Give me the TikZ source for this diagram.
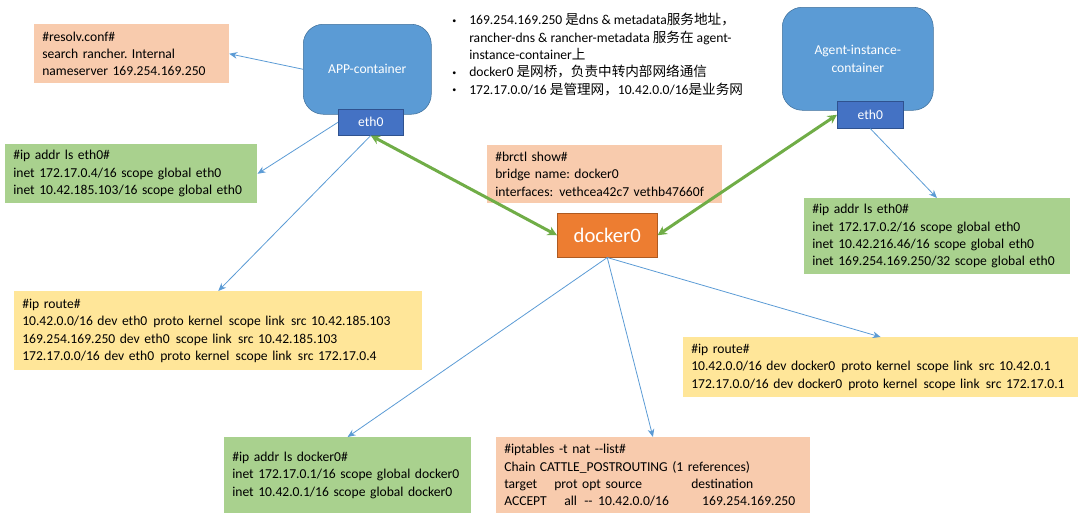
\documentclass[tikz,border=0pt]{standalone}
\usepackage{fontspec}
\setmainfont{Carlito}
\newfontfamily\cjk{Noto Sans CJK SC}
\usetikzlibrary{arrows.meta}
\definecolor{peach}{HTML}{F8CBAD}
\definecolor{leaf}{HTML}{A9D18E}
\definecolor{sand}{HTML}{FFE699}
\definecolor{contblue}{HTML}{5B9BD5}
\definecolor{contedge}{HTML}{41719C}
\definecolor{portblue}{HTML}{4472C4}
\definecolor{portedge}{HTML}{2F528F}
\definecolor{bridgeorange}{HTML}{ED7D31}
\definecolor{bridgeedge}{HTML}{AE5A21}
\definecolor{vethgreen}{HTML}{70AD47}
\newcommand\gap{\hspace{0.45em}}
\newcommand\dotitem{\makebox[12.75pt][l]{\raisebox{1pt}{\fontsize{6}{6}\selectfont\textbullet}}}
\begin{document}
\begin{tikzpicture}[x=0.75pt,y=-0.75pt]
    \tikzstyle{every node}=[font=\fontsize{10.2}{13}\selectfont\frenchspacing, inner sep=0pt, anchor=north west]
    \tikzstyle{infobox}=[rectangle, inner xsep=6pt, align=left]
    \tikzstyle{peachbox}=[infobox, fill=peach]
    \tikzstyle{leafbox}=[infobox, fill=leaf]
    \tikzstyle{sandbox}=[infobox, fill=sand]
    \tikzstyle{container}=[rectangle, rounded corners=15pt, draw=contedge, fill=contblue, text=white, align=center]
    \tikzstyle{port}=[rectangle, draw=portedge, fill=portblue, text=white]
    \tikzstyle{link}=[draw=contblue, line width=0.6pt, -{Stealth[length=6pt,width=5pt]}]
    \tikzstyle{veth}=[draw=vethgreen, line width=2.25pt, {Stealth[length=7pt,width=7pt]}-{Stealth[length=7pt,width=7pt]}]

    \useasboundingbox (0,0) rectangle (1082,521);

    \node[container, minimum width=96pt, minimum height=67.5pt] (app) at (303,24) {APP-container};
    \node[port, minimum width=48.75pt, minimum height=19.5pt] (appeth) at (338,109) {eth0};
    \node[container, minimum width=113.25pt, minimum height=77.25pt] (agent) at (782,7) {Agent-instance-\\container};
    \node[port, minimum width=49.5pt, minimum height=20.25pt] (agenteth) at (837,101) {eth0};
    \node[rectangle, draw=bridgeedge, fill=bridgeorange, text=white, font=\fontsize{15.5}{18}\selectfont, minimum width=75pt, minimum height=33pt] (docker) at (557,213) {docker0};

    \node[peachbox, text width=134pt, minimum height=44.25pt] (resolv) at (34,24) {\#resolv.conf\#\\search rancher. Internal\\nameserver 169.254.169.250};
    \node[leafbox, text width=177pt, minimum height=44.25pt] (appaddr) at (5,144) {\#ip addr ls eth0\#\\inet 172.17.0.4/16 scope global eth0\\inet 10.42.185.103/16 scope global eth0};
    \node[sandbox, text width=294pt, minimum height=59.25pt] (approute) at (14,291) {\#ip route\#\\10.42.0.0/16 dev eth0\gap proto kernel\gap scope link\gap src 10.42.185.103\\169.254.169.250 dev eth0\gap scope link\gap src 10.42.185.103\\172.17.0.0/16 dev eth0\gap proto kernel\gap scope link\gap src 172.17.0.4};
    \node[peachbox, text width=164pt, minimum height=43.5pt] (brctl) at (487,145) {\#brctl show\#\\bridge name: docker0\\interfaces:\gap vethcea42c7 vethb47660f};
    \node[leafbox, text width=187pt, minimum height=57pt] (agentaddr) at (804,198) {\#ip addr ls eth0\#\\inet 172.17.0.2/16 scope global eth0\\inet 10.42.216.46/16 scope global eth0\\inet 169.254.169.250/32 scope global eth0};
    \node[sandbox, text width=284pt, minimum height=45pt] (dockerroute) at (683,337) {\#ip route\#\\10.42.0.0/16 dev docker0\gap proto kernel\gap scope link\gap src 10.42.0.1\\172.17.0.0/16 dev docker0\gap proto kernel\gap scope link\gap src 172.17.0.1};
    \node[leafbox, text width=173pt, minimum height=57pt] (dockeraddr) at (224,437) {\#ip addr ls docker0\#\\inet 172.17.0.1/16 scope global docker0\\inet 10.42.0.1/16 scope global docker0};
    \node[peachbox, text width=223pt, minimum height=57pt] (iptables) at (496,437) {\#iptables -t nat -{}-list\#\\Chain CATTLE\_POSTROUTING (1 references)\\\makebox[37.5pt][l]{target}\makebox[102.75pt][l]{prot opt source}destination\\\makebox[45pt][l]{ACCEPT}\makebox[15pt][l]{all}\makebox[10.5pt][l]{-{}-}\makebox[78pt][l]{10.42.0.0/16}169.254.169.250};

    \node[align=left] (notes) at (452,13) {\dotitem 169.254.169.250 {\cjk 是}dns \& metadata{\cjk 服务地址，}\\\hspace*{12.75pt}rancher-dns \& rancher-metadata {\cjk 服务在} agent-\\\hspace*{12.75pt}instance-container{\cjk 上}\\\dotitem docker0 {\cjk 是网桥，负责中转内部网络通信}\\\dotitem 172.17.0.0/16 {\cjk 是管理网，}10.42.0.0/16{\cjk 是业务网}};

    \draw[link] (app.west) -- (resolv.east);
    \draw[link] (appeth.west) -- (appaddr.east);
    \draw[link] (appeth.south) -- (approute.north);
    \draw[link] (agenteth.south) -- (agentaddr.north);
    \draw[link] (docker.south) -- (dockerroute.north);
    \draw[link] (docker.south) -- (dockeraddr.north);
    \draw[link] (docker.south) -- (iptables.north);
    \draw[veth] (appeth.south) -- (docker.west);
    \draw[veth] (agenteth.west) -- (docker.east);
\end{tikzpicture}
\end{document}
